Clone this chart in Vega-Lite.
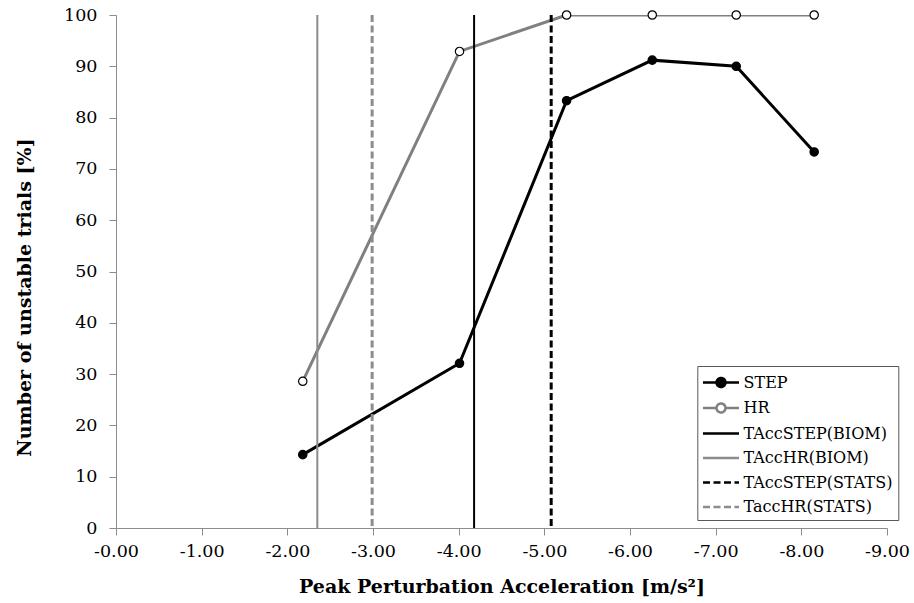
{
  "$schema": "https://vega.github.io/schema/vega-lite/v6.json",
  "width": 771,
  "height": 513,
  "autosize": {"type": "none"},
  "padding": {"left": 116, "top": 15, "right": 27, "bottom": 75},
  "background": "#ffffff",
  "datasets": {
    "pts": [
      {"series": "STEP", "acc": -2.18, "pct": 14.3},
      {"series": "STEP", "acc": -4.01, "pct": 32.1},
      {"series": "STEP", "acc": -5.26, "pct": 83.3},
      {"series": "STEP", "acc": -6.26, "pct": 91.2},
      {"series": "STEP", "acc": -7.24, "pct": 90.0},
      {"series": "STEP", "acc": -8.15, "pct": 73.3},
      {"series": "HR", "acc": -2.18, "pct": 28.6},
      {"series": "HR", "acc": -4.01, "pct": 92.9},
      {"series": "HR", "acc": -5.26, "pct": 100},
      {"series": "HR", "acc": -6.26, "pct": 100},
      {"series": "HR", "acc": -7.24, "pct": 100},
      {"series": "HR", "acc": -8.15, "pct": 100}
    ],
    "thresholds": [
      {"series": "TAccSTEP(BIOM)", "acc": -4.18},
      {"series": "TAccHR(BIOM)", "acc": -2.35},
      {"series": "TAccSTEP(STATS)", "acc": -5.08},
      {"series": "TaccHR(STATS)", "acc": -2.99}
    ]
  },
  "encoding": {
    "x": {
      "field": "acc",
      "type": "quantitative",
      "scale": {"domain": [-9, 0], "reverse": true, "nice": false, "zero": false},
      "axis": {
        "values": [0, -1, -2, -3, -4, -5, -6, -7, -8, -9],
        "labelExpr": "'-' + format(abs(datum.value), '.2f')",
        "title": "Peak Perturbation Acceleration [m/s²]",
        "labelPadding": 7,
        "titleY": 64,
        "titleBaseline": "alphabetic",
        "labelFlush": false,
        "labelOverlap": false,
        "labelFont": "DejaVu Serif",
        "labelFontSize": 17.5,
        "titleFont": "DejaVu Serif",
        "titleFontSize": 19,
        "titleFontWeight": "bold"
      }
    }
  },
  "layer": [
    {
      "data": {"name": "pts"},
      "mark": {"type": "line", "clip": true, "strokeWidth": 3},
      "encoding": {
        "y": {
          "field": "pct", "type": "quantitative",
          "scale": {"domain": [0, 100], "nice": false},
          "axis": {"values": [0, 10, 20, 30, 40, 50, 60, 70, 80, 90, 100], "format": "d", "title": "Number of unstable trials [%]", "labelPadding": 12, "titleX": -86, "titleY": 282, "titleAngle": -90, "titleBaseline": "alphabetic", "titleAlign": "center", "labelFont": "DejaVu Serif", "labelFontSize": 17.5, "titleFont": "DejaVu Serif", "titleFontSize": 19, "titleFontWeight": "bold"}
        },
        "detail": {"field": "series", "type": "nominal"},
        "stroke": {"condition": {"test": "datum.series === 'STEP'", "value": "#000000"}, "value": "#808080"}
      }
    },
    {
      "data": {"name": "pts"},
      "mark": {"type": "point", "shape": "circle", "size": 70, "stroke": "#000000", "strokeWidth": 1.2, "opacity": 1},
      "encoding": {
        "y": {
          "field": "pct", "type": "quantitative",
          "scale": {"domain": [0, 100], "nice": false},
          "axis": {"values": [0, 10, 20, 30, 40, 50, 60, 70, 80, 90, 100], "format": "d", "title": "Number of unstable trials [%]", "labelPadding": 12, "titleX": -86, "titleY": 282, "titleAngle": -90, "titleBaseline": "alphabetic", "titleAlign": "center", "labelFont": "DejaVu Serif", "labelFontSize": 17.5, "titleFont": "DejaVu Serif", "titleFontSize": 19, "titleFontWeight": "bold"}
        },
        "fill": {"condition": {"test": "datum.series === 'STEP'", "value": "#000000"}, "value": "#ffffff"}
      }
    },
    {
      "data": {"name": "thresholds"},
      "mark": {"type": "rule"},
      "encoding": {
        "stroke": {"condition": {"test": "indexof(datum.series, 'STEP') >= 0", "value": "#000000"}, "value": "#8c8c8c"},
        "strokeDash": {"condition": {"test": "indexof(datum.series, 'STATS') >= 0", "value": [7, 3.5]}, "value": [1, 0]},
        "strokeWidth": {"condition": {"test": "indexof(datum.series, 'STATS') >= 0", "value": 3}, "value": 2}
      }
    },
    {
      "data": {"name": "pts"},
      "mark": {"type": "point", "opacity": 0},
      "encoding": {
        "y": {
          "field": "pct", "type": "quantitative",
          "scale": {"domain": [0, 100], "nice": false},
          "axis": {"values": [0, 10, 20, 30, 40, 50, 60, 70, 80, 90, 100], "format": "d", "title": "Number of unstable trials [%]", "labelPadding": 12, "titleX": -86, "titleY": 282, "titleAngle": -90, "titleBaseline": "alphabetic", "titleAlign": "center", "labelFont": "DejaVu Serif", "labelFontSize": 17.5, "titleFont": "DejaVu Serif", "titleFontSize": 19, "titleFontWeight": "bold"}
        },
        "shape": {
          "field": "series", "type": "nominal", "legend": {"title": null, "labelFont": "DejaVu Serif"},
          "scale": {
            "domain": ["STEP", "HR", "TAccSTEP(BIOM)", "TAccHR(BIOM)", "TAccSTEP(STATS)", "TaccHR(STATS)"],
            "range": [
              "M-1.8,0H-0.45M0.45,0H1.8M0.45,0A0.45,0.45,0,1,1,-0.45,0A0.45,0.45,0,1,1,0.45,0Z",
              "M-1.8,0H-0.45M0.45,0H1.8M0.45,0A0.45,0.45,0,1,1,-0.45,0A0.45,0.45,0,1,1,0.45,0Z",
              "M-1.8,0H1.8",
              "M-1.8,0H1.8",
              "M-1.8,0H1.8",
              "M-1.8,0H1.8"
            ]
          }
        },
        "fill": {
          "field": "series", "type": "nominal", "legend": {"title": null, "labelFont": "DejaVu Serif"},
          "scale": {
            "domain": ["STEP", "HR", "TAccSTEP(BIOM)", "TAccHR(BIOM)", "TAccSTEP(STATS)", "TaccHR(STATS)"],
            "range": ["#000000", "#ffffff", "#ffffff", "#ffffff", "#ffffff", "#ffffff"]
          }
        },
        "stroke": {
          "field": "series", "type": "nominal", "legend": {"title": null, "labelFont": "DejaVu Serif"},
          "scale": {
            "domain": ["STEP", "HR", "TAccSTEP(BIOM)", "TAccHR(BIOM)", "TAccSTEP(STATS)", "TaccHR(STATS)"],
            "range": ["#000000", "#808080", "#000000", "#8c8c8c", "#000000", "#8c8c8c"]
          }
        },
        "strokeDash": {
          "field": "series", "type": "nominal", "legend": {"title": null, "labelFont": "DejaVu Serif"},
          "scale": {
            "domain": ["STEP", "HR", "TAccSTEP(BIOM)", "TAccHR(BIOM)", "TAccSTEP(STATS)", "TaccHR(STATS)"],
            "range": [[1, 0], [1, 0], [1, 0], [1, 0], [7, 3.5], [7, 3.5]]
          }
        }
      }
    }
  ],
  "config": {
    "view": {"stroke": null},
    "axis": {
      "grid": false,
      "domainColor": "#8c8c8c",
      "tickColor": "#8c8c8c",
      "tickSize": 7,
      "labelColor": "#000000",
      "titleColor": "#000000"
    },
    "legend": {
      "orient": "none",
      "legendX": 581.3,
      "legendY": 351,
      "padding": 5,
      "strokeColor": "#595959",
      "fillColor": "#ffffff",
      "labelFontSize": 16,
      "labelColor": "#000000",
      "symbolSize": 400,
      "symbolStrokeWidth": 2.5,
      "symbolOffset": 7.2,
      "labelOffset": 11,
      "rowPadding": 4.5,
      "symbolOpacity": 1,
      "symbolFillColor": "#ffffff",
      "symbolStrokeColor": "#000000",
      "labelLimit": 400
    }
  }
}
